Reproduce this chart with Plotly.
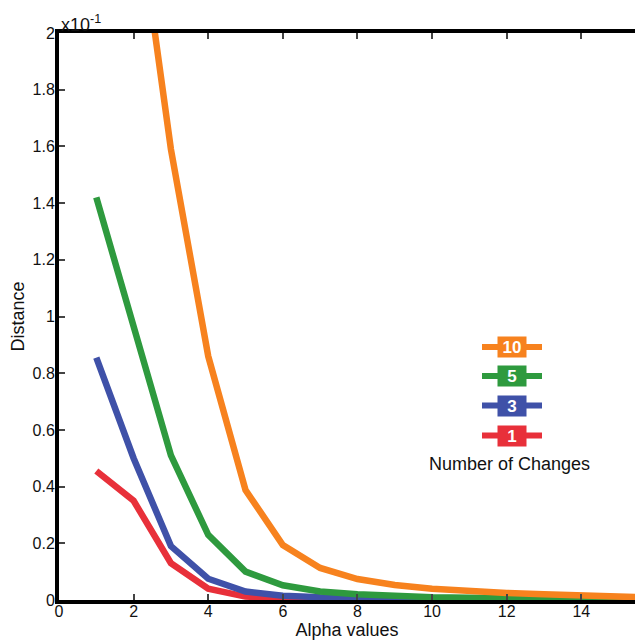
import plotly.graph_objects as go

alpha = [1, 2, 3, 4, 5, 6, 7, 8, 9, 10, 11, 12, 13, 14, 15, 16]
d10 = [3.5, 2.55, 1.59, 0.86, 0.388, 0.194, 0.113, 0.074, 0.053, 0.04, 0.031, 0.025, 0.02, 0.015, 0.011, 0.008]
d5 = [1.42, 0.96, 0.51, 0.23, 0.10, 0.052, 0.03, 0.02, 0.013, 0.01, 0.008, 0.007, 0.006, 0.005, 0.004, 0.003]
d3 = [0.855, 0.50, 0.19, 0.075, 0.03, 0.015, 0.01, 0.007, 0.005, 0.004, 0.003, 0.003, 0.002, 0.002, 0.002, 0.002]
d1 = [0.455, 0.35, 0.13, 0.04, 0.012, 0.005, 0.003, 0.002, 0.002, 0.001, 0.001, 0.001, 0.001, 0.001, 0.001, 0.001]

series_names = ["10", "5", "3", "1"]
series_vals = [d10, d5, d3, d1]
colors = ["#f7821e", "#2e9a3e", "#3f51a8", "#e8303a"]

xtick_vals = [0, 2, 4, 6, 8, 10, 12, 14]
ytick_vals = [0, 0.2, 0.4, 0.6, 0.8, 1.0, 1.2, 1.4, 1.6, 1.8, 2.0]
ytick_text = ["0", "0.2", "0.4", "0.6", "0.8", "1", "1.2", "1.4", "1.6", "1.8", "2"]

fig = go.Figure()
for name, vals, c in zip(reversed(series_names), reversed(series_vals), reversed(colors)):
    fig.add_trace(go.Scatter(x=alpha, y=vals, mode="lines", name=name,
                             line=dict(color=c, width=6.5), showlegend=False))

font = "Liberation Sans, Arial, sans-serif"
fig.update_layout(
    width=635, height=640,
    margin=dict(l=59, r=0, t=33, b=40),
    plot_bgcolor="white", paper_bgcolor="white",
    font=dict(family=font, size=16, color="#111"),
    xaxis=dict(range=[0, 15.44], tickvals=xtick_vals, ticks="inside", ticklen=6, tickwidth=2,
               showline=True, linewidth=4, linecolor="black", mirror="ticks", showgrid=False,
               zeroline=False, tickfont=dict(size=16), ticklabelstandoff=-6,
               title=dict(text="Alpha values", font=dict(size=18), standoff=0)),
    yaxis=dict(range=[0, 2], tickvals=ytick_vals, ticktext=ytick_text, ticks="inside", ticklen=6,
               tickwidth=2, showline=True, linewidth=4, linecolor="black", showgrid=False,
               zeroline=False, tickfont=dict(size=16), ticklabelstandoff=-3,
               title=dict(text="Distance", font=dict(size=18), standoff=4)),
)

fig.add_annotation(text="x10<sup>-1</sup>", xref="paper", yref="paper", x=0, y=1.0,
                   xanchor="left", yanchor="bottom", showarrow=False, font=dict(size=18), yshift=-4)

# custom legend
ypix = [347, 376, 405.5, 435.5]
for name, c, yp in zip(series_names, colors, ypix):
    yv = 1 - (yp - 33) / 567
    x0 = (482 - 59) / 576
    x1 = (542 - 59) / 576
    fig.add_shape(type="line", xref="paper", yref="paper", x0=x0, x1=x1, y0=yv, y1=yv,
                  line=dict(color=c, width=6))
    fig.add_annotation(text="<b>" + name + "</b>", xref="paper", yref="paper",
                       x=(512 - 59) / 576, y=yv, xanchor="center", yanchor="middle",
                       showarrow=False, bgcolor=c,
                       font=dict(color="white", size=17), width=26, height=18, borderpad=1)
fig.add_annotation(text="Number of Changes", xref="paper", yref="paper",
                   x=(509 - 59) / 576, y=1 - (464 - 33) / 567, xanchor="center", yanchor="middle",
                   showarrow=False, font=dict(size=18))

fig.write_html("out.html")
